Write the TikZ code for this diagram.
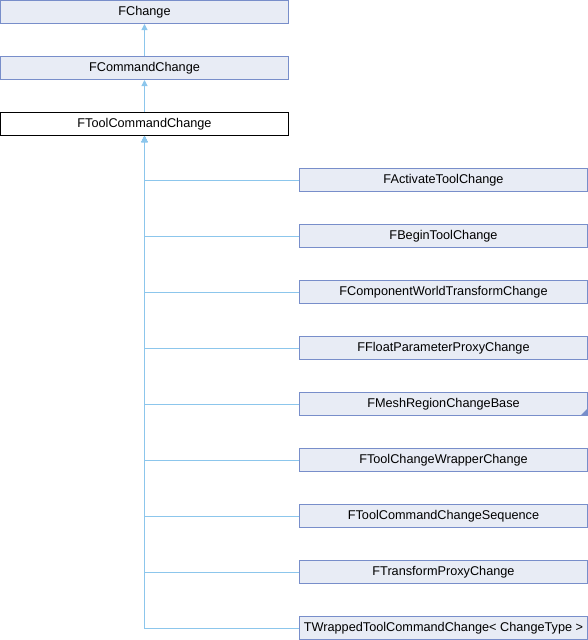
\documentclass[tikz,border=0pt]{standalone}
\usepackage{fontspec}
\setmainfont{Liberation Sans}
\usetikzlibrary{arrows.meta, positioning, calc}
\definecolor{boxfill}{RGB}{232, 236, 245}
\definecolor{boxline}{RGB}{120, 142, 202}
\definecolor{edgeblue}{RGB}{140, 198, 236}

\tikzset{
    classbox/.style={draw=boxline, fill=boxfill, line width=1pt, minimum width=288pt,
          minimum height=23pt, inner sep=0pt, font=\fontsize{12.7}{14}\selectfont},
    currentbox/.style={classbox, draw=black, fill=white},
    inherit/.style={draw=edgeblue, line width=1pt, -{Triangle[length=6pt, width=6pt]}}
}

\begin{document}
\begin{tikzpicture}[x=1pt, y=-1pt]
    \useasboundingbox (0,0) rectangle (588,640);
    % base classes
    \node[classbox] (fchange) at (144.5,12) {FChange};
    \node[classbox] (fcmdchange) at (144.5,68) {FCommandChange};
    \node[currentbox] (ftoolcmd) at (144.5,124) {FToolCommandChange};
    \draw[inherit] (fcmdchange.north) -- (fchange.south);
    \draw[inherit] (ftoolcmd.north) -- (fcmdchange.south);
    % derived classes
    \foreach \name [count=\i from 0] in {FActivateToolChange, FBeginToolChange,
        FComponentWorldTransformChange, FFloatParameterProxyChange,
        FMeshRegionChangeBase, FToolChangeWrapperChange, FToolCommandChangeSequence,
        FTransformProxyChange, TWrappedToolCommandChange<\ ChangeType\ >} {
        \node[classbox] (child\i) at (443.5,180+56*\i) {\name};
        \draw[inherit] (child\i.west) -| (ftoolcmd.south);
    }
    % marker for classes with further derived ones
    \fill[boxline] ($(child4.south east)+(-0.5,-0.5)$) -- ++(0,-7) -- ++(-7,7) -- cycle;
\end{tikzpicture}
\end{document}
